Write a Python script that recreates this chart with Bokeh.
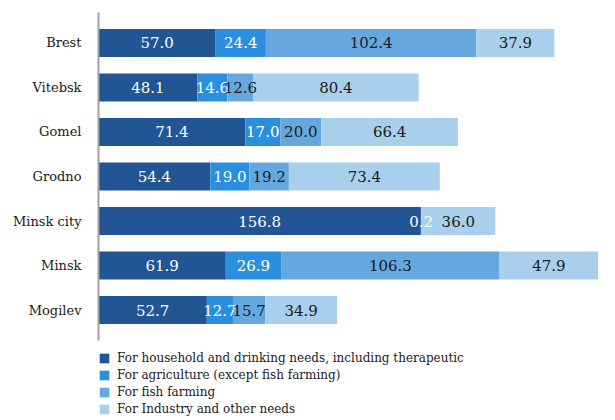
from bokeh.plotting import figure
from bokeh.layouts import column
from bokeh.models import ColumnDataSource, FactorRange, Legend, LegendItem
from bokeh.core.properties import value
from bokeh.embed import file_html
from bokeh.resources import INLINE

regions = ["Brest", "Vitebsk", "Gomel", "Grodno", "Minsk city", "Minsk", "Mogilev"]
household = [57.0, 48.1, 71.4, 54.4, 156.8, 61.9, 52.7]
agriculture = [24.4, 14.6, 17.0, 19.0, 0.2, 26.9, 12.7]
fish = [102.4, 12.6, 20.0, 19.2, 0.0, 106.3, 15.7]
industry = [37.9, 80.4, 66.4, 73.4, 36.0, 47.9, 34.9]
series_names = ["For household and drinking needs, including therapeutic",
                "For agriculture (except fish farming)",
                "For fish farming",
                "For Industry and other needs"]

keys = ["household", "agriculture", "fish", "industry"]
colors = ["#215593", "#2a8fde", "#65a8e0", "#a8cfec"]
label_colors = ["white", "white", "#1a1a1a", "#1a1a1a"]
FONT = "DejaVu Serif"

data = dict(regions=regions, household=household, agriculture=agriculture,
            fish=fish, industry=industry)
src = ColumnDataSource(data)

p = figure(width=612, height=341, output_backend="svg", toolbar_location=None,
           y_range=FactorRange(factors=regions[::-1], range_padding=0.185,
                               range_padding_units="absolute"),
           x_range=(0, 250),
           min_border_left=98, min_border_right=0, min_border_top=12,
           min_border_bottom=1)
p.outline_line_color = None
p.xgrid.visible = False
p.ygrid.visible = False
p.xaxis.visible = False

p.hbar_stack(keys, y="regions", height=0.63, color=colors,
             line_color=None, source=src)

# labels
series = [household, agriculture, fish, industry]
for i, vals in enumerate(series):
    xs, ys, ts = [], [], []
    for j, r in enumerate(regions):
        v = vals[j]
        if v == 0:
            continue
        left = sum(series[k][j] for k in range(i))
        xs.append(left + v / 2)
        ys.append(r)
        ts.append(f"{v:.1f}")
    p.text(x=xs, y=ys, text=ts, text_align="center", text_baseline="middle",
           text_font=value(FONT), text_font_size="15px", text_color=label_colors[i])

ax = p.yaxis[0]
ax.axis_line_color = "#a0a0a0"
ax.axis_line_width = 2
ax.major_tick_line_color = None
ax.minor_tick_line_color = None
ax.major_tick_out = 0
ax.major_label_standoff = 17
ax.major_label_text_font = FONT
ax.major_label_text_font_size = "13px"
ax.major_label_text_color = "#1a1a1a"

# legend figure: same stacked series, renderers hidden, swatches only
lf = figure(width=612, height=75, output_backend="svg", toolbar_location=None,
            y_range=FactorRange(factors=regions), x_range=(0, 250),
            min_border_left=97, min_border_right=0, min_border_top=10,
            min_border_bottom=0)
lf.outline_line_color = None
lf.axis.visible = False
lf.grid.visible = False
lrs = lf.hbar_stack(keys, y="regions", height=0.63, color=colors,
                    line_color=None, source=src)
for r in lrs:
    r.visible = False
items = [LegendItem(label=series_names[i], renderers=[lrs[i]]) for i in range(4)]
legend = Legend(items=items, location="top_left", orientation="vertical",
                glyph_width=12, glyph_height=12, label_height=12, spacing=3,
                label_standoff=7, padding=0, margin=0,
                label_text_font=FONT, label_text_font_size="12px",
                label_text_color="#1a1a1a", click_policy="none",
                border_line_color=None, background_fill_alpha=0)
lf.add_layout(legend, "center")

open("out.html", "w").write(file_html(column(p, lf), INLINE))
